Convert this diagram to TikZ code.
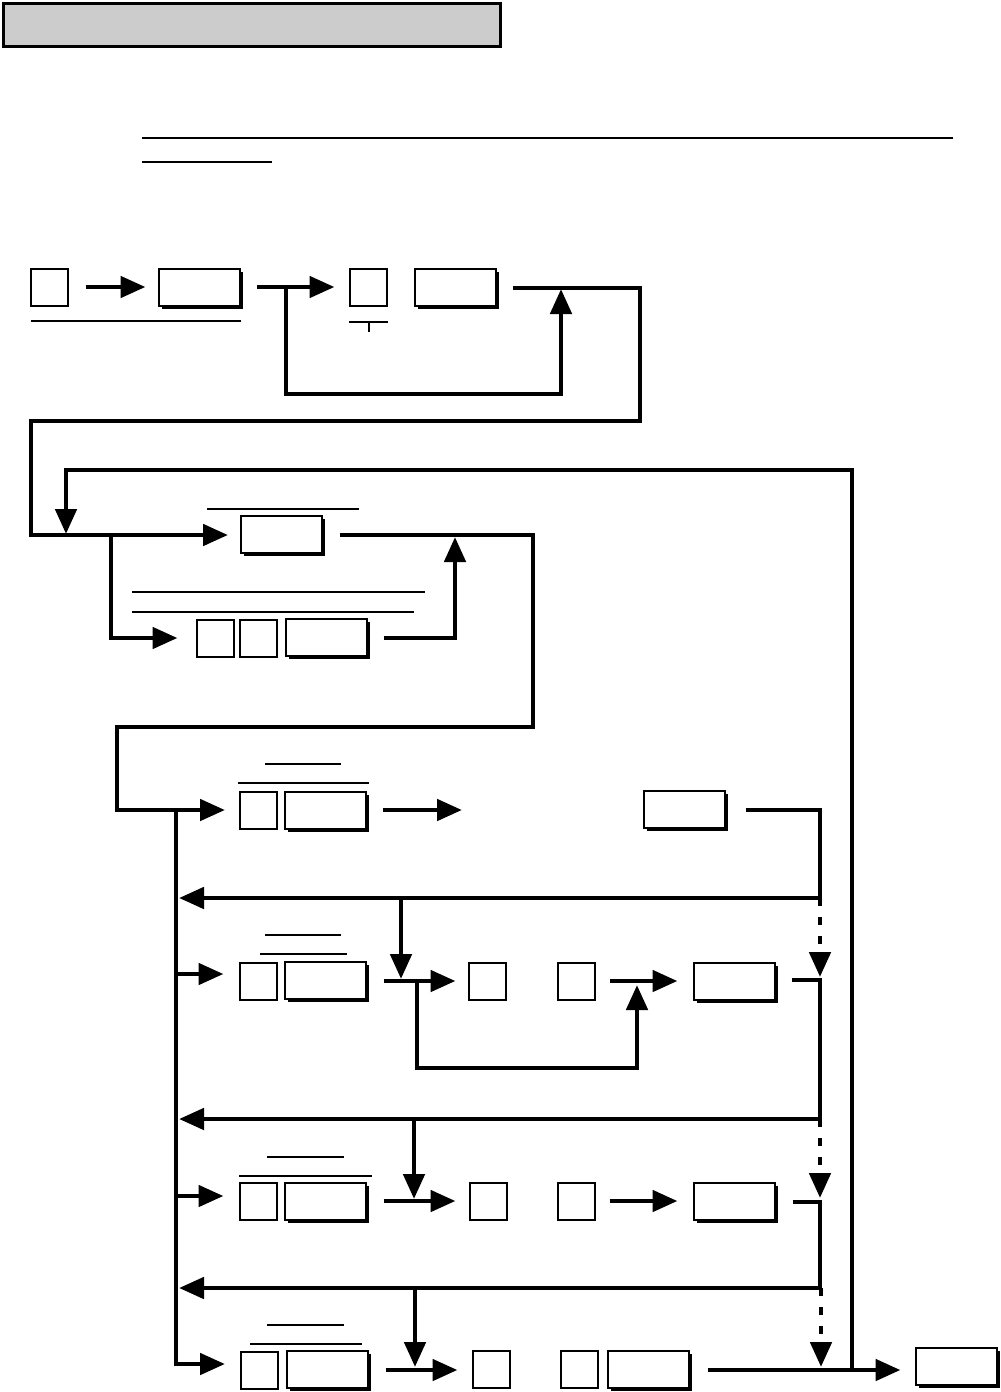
\documentclass[tikz,border=0pt]{standalone}
\usetikzlibrary{arrows.meta,shadows,calc}
\definecolor{titlegray}{HTML}{CCCCCC}
\tikzset{
  keybox/.style={draw, line width=2pt, fill=white, minimum width=37pt, minimum height=37pt, inner sep=0pt},
  widebox/.style={draw, line width=2pt, fill=white, minimum width=81pt, minimum height=37pt, inner sep=0pt,
     general shadow={fill=black, shadow xshift=3.5pt, shadow yshift=-3.5pt}},
  conn/.style={line width=4.8pt},
  arr/.style={conn, -{Triangle[length=25pt,width=21pt]}},
  darr/.style={arr, dash pattern=on 8pt off 11pt},
  thin/.style={line width=1.6pt},
}
\begin{document}
\begin{tikzpicture}[x=1pt,y=-1pt]
\useasboundingbox (0,0) rectangle (1001,1392);
% title bar
\node[draw, line width=3.2pt, fill=titlegray, minimum width=497pt, minimum height=43pt, inner sep=0pt, anchor=north west] (title) at (1.6,1.6) {};
\draw[thin] (142,138) coordinate (u1a) -- (953,138) coordinate (u1b);
\draw[thin] (142,162) coordinate (u2a) -- (272,162) coordinate (u2b);

% ---------- row 1
\node[keybox] (r1a) at (49,287) {};
\node[widebox] (r1b) at (199,287) {};
\node[keybox] (r1c) at (368,287) {};
\node[widebox] (r1d) at (455,287) {};
\draw[thin] (31,321) -- (241,321);
\draw[thin] (349,322) -- (388,322);
\draw[thin] (369,322) -- (369,332);
\draw[arr] ($(r1a.east)+(17,0)$) -- ($(r1b.west)+(-12,0)$);
\coordinate (j1) at (286,287);
\draw[arr] ($(r1b.east)+(16,0)$) -- ($(r1c.west)+(-14,0)$);
\coordinate (r1up) at (561,289);
\draw[arr] (j1) -- (286,394) -- (561,394) -- (r1up);
\coordinate (r2in) at (228,535);
\draw[arr] ($(r1d.east)+(16,1)$) -- (640,288) -- (640,421) -- (31,421) -- (31,535) -- (r2in);

% ---------- row 2
\node[widebox] (r2a) at (281,534) {};
\node[keybox] (r2b) at (215,638) {};
\node[keybox] (r2c) at (258,638) {};
\node[widebox] (r2d) at (326,637) {};
\draw[thin] (207,509) -- (359,509);
\draw[thin] (132,592) -- (425,592);
\draw[thin] (132,612) -- (414,612);
\coordinate (fbtop) at (66,534);
\coordinate (bottomj) at (852,1370);
\draw[arr] (bottomj) -- (852,470) -- (66,470) -- (fbtop);
\draw[arr] (111,535) -- (111,638) -- ($(r2b.west)+(-18,0)$);
\draw[arr] ($(r2d.east)+(16,1)$) -- (455,638) -- (455,537);
\coordinate (r3in) at (225,810);
\draw[arr] ($(r2a.east)+(17,1)$) -- (533,535) -- (533,727) -- (117,727) -- (117,810) -- (r3in);

% ---------- row 3
\node[keybox] (r3a) at (258,810) {};
\node[widebox] (r3b) at (325,810) {};
\node[widebox] (r3c) at (684,809) {};
\draw[thin] (265,764) -- (341,764);
\draw[thin] (238,783) -- (369,783);
\draw[arr] ($(r3b.east)+(16,0)$) -- (462,810);
\coordinate (bus3) at (179,898);
\draw[arr] ($(r3c.east)+(20,1)$) -- (820,810) -- (820,898) -- (bus3);
% bus
\coordinate (bus6) at (225,1364);
\draw[arr] (176,810) -- (176,1364) -- (bus6);

% ---------- row 4
\node[keybox] (r4a) at (258,981) {};
\node[widebox] (r4b) at (325,980) {};
\node[keybox] (r4c) at (487,981) {};
\node[keybox] (r4d) at (576,981) {};
\node[widebox] (r4e) at (734,981) {};
\draw[thin] (265,935) -- (341,935);
\draw[thin] (260,954) -- (347,954);
\draw[arr] (401,898) -- (401,979);
\draw[arr] (176,974) -- ($(r4a.west)+(-15,-7)$);
\draw[arr] ($(r4b.east)+(17,1)$) -- ($(r4c.west)+(-12,0)$);
\draw[arr] (417,981) -- (417,1068) -- (637,1068) -- (637,985);
\draw[arr] ($(r4d.east)+(14,0)$) -- ($(r4e.west)+(-15,0)$);
\coordinate (bus4) at (179,1119);
\draw[arr] ($(r4e.east)+(16,-1)$) -- (820,980) -- (820,1119) -- (bus4);
\draw[darr] (820,898) -- (820,977);

% ---------- row 5
\node[keybox] (r5a) at (258,1201) {};
\node[widebox] (r5b) at (325,1201) {};
\node[keybox] (r5c) at (488,1201) {};
\node[keybox] (r5d) at (576,1201) {};
\node[widebox] (r5e) at (734,1201) {};
\draw[thin] (267,1157) -- (344,1157);
\draw[thin] (239,1176) -- (372,1176);
\draw[arr] (414,1119) -- (414,1199);
\draw[arr] (176,1196) -- ($(r5a.west)+(-15,-5)$);
\draw[arr] ($(r5b.east)+(17,0)$) -- ($(r5c.west)+(-13,0)$);
\draw[arr] ($(r5d.east)+(14,0)$) -- ($(r5e.west)+(-15,0)$);
\coordinate (bus5) at (179,1288);
\draw[arr] ($(r5e.east)+(17,1)$) -- (820,1202) -- (820,1288) -- (bus5);
\draw[darr] (820,1119) -- (820,1198);

% ---------- row 6
\node[keybox] (r6a) at (259,1370) {};
\node[widebox] (r6b) at (327,1369) {};
\node[keybox] (r6c) at (491,1369) {};
\node[keybox] (r6d) at (579,1369) {};
\node[widebox] (r6e) at (648,1369) {};
\node[widebox] (r6f) at (956,1366) {};
\draw[thin] (267,1325) -- (344,1325);
\draw[thin] (250,1344) -- (362,1344);
\draw[arr] (415,1288) -- (415,1367);
\draw[arr] ($(r6b.east)+(17,1)$) -- ($(r6c.west)+(-14,1)$);
\draw[arr] ($(r6e.east)+(18,1)$) -- ($(r6f.west)+(-14,4)$);
\draw[darr] (821,1288) -- (821,1367);
\end{tikzpicture}
\end{document}
